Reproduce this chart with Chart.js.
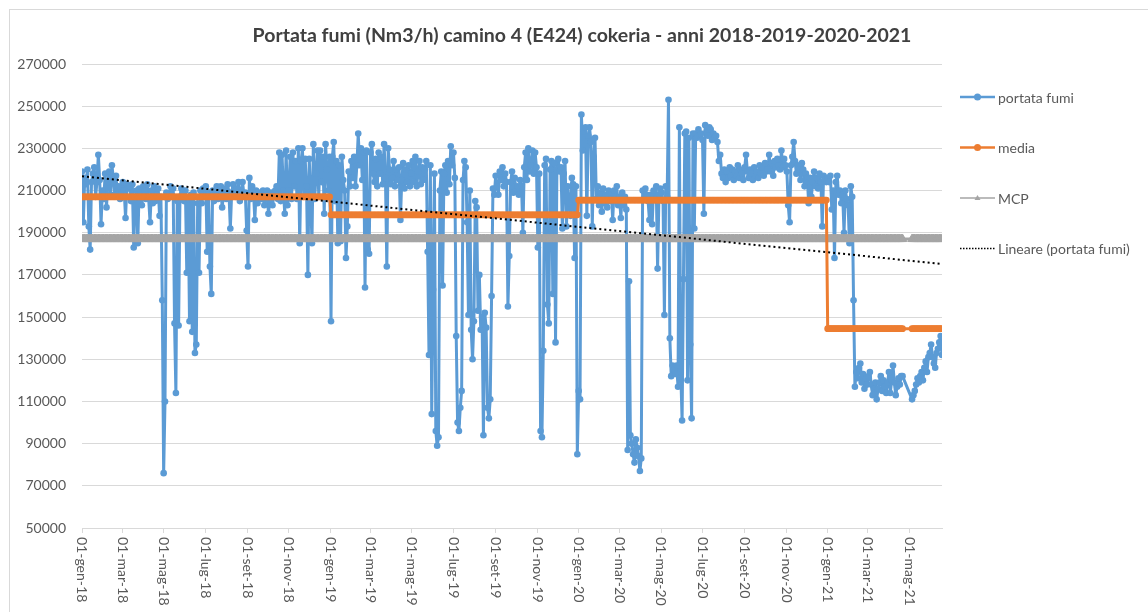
<!DOCTYPE html>
<html>
<head>
<meta charset="utf-8">
<title>Portata fumi camino 4</title>
<script src="https://cdn.jsdelivr.net/npm/chart.js@4.4.1/dist/chart.umd.min.js"></script>
<style>
  html, body { margin: 0; padding: 0; background: #fff; }
  #wrap { position: relative; width: 1148px; height: 612px; }
</style>
</head>
<body>
<div id="wrap"><canvas id="chart" width="1148" height="612"></canvas></div>
<script>
const chartTitle = 'Portata fumi (Nm3/h) camino 4 (E424) cokeria - anni 2018-2019-2020-2021';
const seriesNames = ['portata fumi', 'media', 'MCP', 'Lineare (portata fumi)'];
const monthIt = ['gen', 'feb', 'mar', 'apr', 'mag', 'giu', 'lug', 'ago', 'set', 'ott', 'nov', 'dic'];
const stepDays = 2; // one reading every 2 days, starting 01-gen-18

const xTickLabels = [
  '01-gen-18', '01-mar-18', '01-mag-18', '01-lug-18', '01-set-18', '01-nov-18',
  '01-gen-19', '01-mar-19', '01-mag-19', '01-lug-19', '01-set-19', '01-nov-19',
  '01-gen-20', '01-mar-20', '01-mag-20', '01-lug-20', '01-set-20', '01-nov-20',
  '01-gen-21', '01-mar-21', '01-mag-21'
];

// portata fumi (Nm3/h)
const portata2018 = [
  219000, 195000, 216000, 213000, 220000, 193000, 182000, 214000, 218000, 221000,
  207000, 214000, 227000, 215000, 194000, 210000, 206000, 218000, 202000, 214000,
  219000, 208000, 222000, 216000, 208000, 217000, 208000, 212000, 206000, 209000,
  214000, 210000, 197000, 213000, 211000, 212000, 205000, 213000, 183000, 207000,
  210000, 185000, 211000, 209000, 203000, 212000, 210000, 206000, 213000, 206000,
  195000, 210000, 204000, 212000, 205000, 208000, 211000, 198000, 207000, 158000,
  76000, 110000, 209000, 206000, 208000, 212000, 208000, 211000, 147000, 114000,
  205000, 146000, 207000, 211000, 209000, 205000, 210000, 171000, 206000, 148000,
  208000, 143000, 209000, 133000, 137000, 204000, 171000, 210000, 204000, 211000,
  207000, 212000, 181000, 209000, 174000, 161000, 210000, 205000, 208000, 212000,
  206000, 209000, 212000, 202000, 208000, 211000, 206000, 213000, 209000, 192000,
  209000, 213000, 210000, 207000, 211000, 214000, 205000, 209000, 214000, 208000,
  209000, 191000, 174000, 216000, 206000, 212000, 210000, 196000, 210000, 204000,
  209000, 207000, 206000, 210000, 203000, 208000, 210000, 199000, 205000, 209000,
  203000, 208000, 210000, 212000, 206000, 228000, 205000, 227000, 210000, 199000,
  229000, 203000, 210000, 226000, 206000, 228000, 212000, 224000, 206000, 230000,
  185000, 224000, 230000, 207000, 225000, 212000, 170000, 225000, 208000, 185000,
  232000, 206000, 218000, 229000, 207000, 229000, 214000, 226000, 199000, 232000,
  220000, 210000, 226000
];
const portata2019 = [
  148000, 226000, 233000, 205000, 224000, 185000, 222000, 186000, 226000, 215000,
  210000, 178000, 193000, 219000, 212000, 224000, 216000, 226000, 212000, 222000,
  237000, 222000, 230000, 215000, 228000, 164000, 229000, 182000, 180000, 228000,
  232000, 218000, 214000, 225000, 212000, 228000, 218000, 226000, 213000, 232000,
  216000, 174000, 230000, 220000, 213000, 216000, 224000, 212000, 220000, 215000,
  221000, 196000, 215000, 223000, 211000, 220000, 214000, 222000, 212000, 218000,
  224000, 214000, 226000, 212000, 219000, 224000, 213000, 221000, 215000, 220000,
  224000, 181000, 132000, 222000, 104000, 163000, 218000, 96000, 89000, 93000,
  210000, 219000, 165000, 218000, 222000, 209000, 224000, 213000, 231000, 222000,
  228000, 216000, 141000, 100000, 96000, 107000, 115000, 215000, 224000, 221000,
  195000, 151000, 210000, 144000, 130000, 148000, 205000, 202000, 153000, 170000,
  144000, 150000, 94000, 152000, 145000, 107000, 102000, 111000, 160000, 211000,
  208000, 217000, 212000, 208000, 219000, 215000, 221000, 212000, 218000, 214000,
  155000, 179000, 214000, 219000, 209000, 216000, 210000, 212000, 208000, 215000,
  212000, 190000, 221000, 228000, 215000, 230000, 219000, 222000, 229000, 218000,
  228000, 221000, 183000, 218000, 96000, 93000, 134000, 222000, 225000, 156000,
  147000, 220000, 224000, 161000, 223000, 138000, 220000, 225000, 219000, 221000,
  192000, 218000, 224000, 193000, 212000, 204000, 198000, 216000, 213000, 178000,
  212000, 85000
];
const portata2020 = [
  115000, 111000, 246000, 229000, 238000, 240000, 198000, 236000, 240000, 233000,
  193000, 226000, 235000, 206000, 212000, 203000, 209000, 200000, 211000, 204000,
  208000, 202000, 210000, 205000, 209000, 196000, 210000, 205000, 212000, 203000,
  207000, 197000, 209000, 203000, 207000, 201000, 87000, 167000, 94000, 90000,
  85000, 81000, 92000, 88000, 84000, 77000, 83000, 210000, 206000, 211000,
  208000, 205000, 196000, 208000, 194000, 210000, 206000, 212000, 173000, 208000,
  211000, 209000, 205000, 151000, 212000, 207000, 253000, 140000, 122000, 127000,
  125000, 123000, 127000, 117000, 240000, 124000, 101000, 168000, 237000, 238000,
  120000, 235000, 137000, 102000, 237000, 192000, 237000, 235000, 239000, 236000,
  237000, 234000, 199000, 241000, 238000, 236000, 240000, 239000, 234000, 237000,
  235000, 236000, 233000, 224000, 227000, 218000, 216000, 220000, 214000, 219000,
  216000, 221000, 217000, 220000, 215000, 219000, 217000, 222000, 216000, 220000,
  218000, 215000, 221000, 227000, 219000, 216000, 220000, 218000, 215000, 221000,
  217000, 219000, 216000, 222000, 218000, 221000, 217000, 223000, 219000, 220000,
  227000, 219000, 223000, 217000, 224000, 221000, 225000, 222000, 220000, 229000,
  221000, 225000, 222000, 219000, 203000, 195000, 222000, 226000, 233000, 224000,
  218000, 222000, 220000, 215000, 223000, 220000, 212000, 218000, 216000, 204000,
  216000, 207000, 214000, 219000, 212000, 216000, 211000, 218000, 214000, 193000,
  217000, 215000, 214000
];
const portata2021 = [
  216000, 214000, 217000, 201000, 210000, 178000, 214000, 217000, 208000, 210000,
  204000, 208000, 190000, 210000, 206000, 203000, 185000, 212000, 207000, 158000,
  117000, 124000, 121000, 126000, 128000, 119000, 123000, 116000, 121000, 118000,
  122000, 124000, 118000, 113000, 116000, 119000, 111000, 116000, 119000, 122000,
  115000, 120000, 117000, 114000, 119000, 124000, 114000, 120000, 127000, 119000,
  113000, 117000, 121000, 118000, 122000, 122000, null, null, null, null,
  null, null, 111000, 113000, 115000, 118000, 121000, 119000, 122000, 124000,
  120000, 126000, 129000, 124000, 131000, 133000, 137000, 131000, 128000, 126000,
  133000, 135000, 138000, 141000, 132000
];

const mediaAnnua = [207000, 198500, 205500, 144500];
const mcpValue = 187000;
const trendStart = 216800;
const trendEnd = 175200;

function dayOffset(label) {
  const parts = label.split('-');
  const t = Date.UTC(2000 + Number(parts[2]), monthIt.indexOf(parts[1]), Number(parts[0]));
  return Math.round((t - Date.UTC(2018, 0, 1)) / 86400000);
}

const portataPts = [];
const mediaPts = [];
const mcpPts = [];
[portata2018, portata2019, portata2020, portata2021].forEach((arr, year) => {
  arr.forEach(v => {
    const x = portataPts.length * stepDays;
    portataPts.push({ x: x, y: v });
    mediaPts.push({ x: x, y: v === null ? null : mediaAnnua[year] });
    mcpPts.push({ x: x, y: v === null ? null : mcpValue });
  });
});
const lastDay = portataPts[portataPts.length - 1].x;
const trendPts = [{ x: 0, y: trendStart }, { x: lastDay, y: trendEnd }];

const textColor = '#595959';
const fontName = 'Lato, "Liberation Sans", sans-serif';

const framePlugin = {
  id: 'frame',
  beforeDraw(chart) {
    const c = chart.ctx;
    c.save();
    c.fillStyle = '#ffffff';
    c.fillRect(0, 0, chart.width, chart.height);
    c.strokeStyle = '#d9d9d9';
    c.lineWidth = 1;
    c.strokeRect(9.5, 9.5, 1400, 800);
    c.restore();
  }
};

const textPlugin = {
  id: 'texts',
  afterDraw(chart) {
    const c = chart.ctx;
    const sx = chart.scales.x;
    c.save();
    // title
    c.font = 'bold 19.5px ' + fontName;
    c.fillStyle = '#404040';
    c.textAlign = 'center';
    c.textBaseline = 'middle';
    c.fillText(chartTitle, 582, 36);

    // date labels, rotated clockwise
    c.font = '14px ' + fontName;
    c.fillStyle = textColor;
    c.textAlign = 'left';
    xTickLabels.forEach(lbl => {
      const px = sx.getPixelForValue(dayOffset(lbl));
      c.save();
      c.translate(px, sx.top + 9);
      c.rotate(Math.PI / 2);
      c.fillText(lbl, 0, 0);
      c.restore();
    });

    // legend on the right
    chart.data.datasets.forEach((ds, k) => {
      const y = 97 + k * 50.5;
      c.save();
      c.strokeStyle = ds.borderColor;
      c.lineWidth = k < 2 ? 2.5 : 1.5;
      if (ds.borderDash) c.setLineDash([1.5, 1.5]);
      c.beginPath();
      c.moveTo(960, y);
      c.lineTo(995, y);
      c.stroke();
      c.setLineDash([]);
      c.fillStyle = ds.borderColor;
      if (ds.pointStyle === 'triangle') {
        c.beginPath();
        c.moveTo(977.5, y - 3);
        c.lineTo(980.5, y + 2);
        c.lineTo(974.5, y + 2);
        c.closePath();
        c.fill();
      } else if (ds.pointRadius > 0) {
        c.beginPath();
        c.arc(977.5, y, 3.5, 0, Math.PI * 2);
        c.fill();
      }
      c.restore();
      c.fillStyle = textColor;
      c.textBaseline = 'middle';
      c.fillText(ds.label, 998, y + 1);
    });
    c.restore();
  }
};

new Chart(document.getElementById('chart'), {
  type: 'line',
  data: {
    datasets: [
      {
        label: seriesNames[0], data: portataPts,
        borderColor: '#5b9bd5', backgroundColor: '#5b9bd5',
        borderWidth: 3, pointRadius: 3.3, pointBorderWidth: 0,
        pointBackgroundColor: '#5b9bd5', spanGaps: true, order: 4
      },
      {
        label: seriesNames[1], data: mediaPts,
        borderColor: '#ed7d31', backgroundColor: '#ed7d31',
        borderWidth: 3, pointRadius: 3.4, pointBorderWidth: 0,
        pointBackgroundColor: '#ed7d31', spanGaps: true, order: 2
      },
      {
        label: seriesNames[2], data: mcpPts,
        borderColor: '#a5a5a5', backgroundColor: '#a5a5a5',
        borderWidth: 3, pointStyle: 'triangle', pointRadius: 5, pointBorderWidth: 1,
        pointBorderColor: '#a5a5a5', pointBackgroundColor: '#a5a5a5', spanGaps: true, order: 3
      },
      {
        label: seriesNames[3], data: trendPts,
        borderColor: '#000000', borderWidth: 2, borderDash: [2, 3],
        borderCapStyle: 'butt', pointRadius: 0, order: 1
      }
    ]
  },
  options: {
    responsive: false,
    animation: false,
    devicePixelRatio: 1,
    elements: {
      line: { tension: 0, borderJoinStyle: 'round', borderCapStyle: 'round' }
    },
    layout: { padding: { top: 64, right: 206, bottom: 0, left: 0 } },
    plugins: {
      legend: { display: false },
      tooltip: { enabled: false },
      title: { display: false }
    },
    scales: {
      x: {
        type: 'linear',
        min: 0,
        max: lastDay,
        afterBuildTicks: (scale) => {
          scale.ticks = xTickLabels.map(l => ({ value: dayOffset(l) }));
        },
        afterFit: (scale) => { scale.height = 84; },
        ticks: { display: false },
        grid: { drawOnChartArea: false, drawTicks: true, tickLength: 5, color: '#d9d9d9' },
        border: { display: true, color: '#d9d9d9' }
      },
      y: {
        min: 50000,
        max: 270000,
        afterFit: (scale) => { scale.width = 82; },
        ticks: {
          stepSize: 20000,
          padding: 16,
          color: textColor,
          font: { family: fontName, size: 14 },
          callback: (v) => String(v)
        },
        grid: { color: '#d9d9d9', drawTicks: false },
        border: { display: false }
      }
    }
  },
  plugins: [framePlugin, textPlugin]
});
</script>
</body>
</html>
